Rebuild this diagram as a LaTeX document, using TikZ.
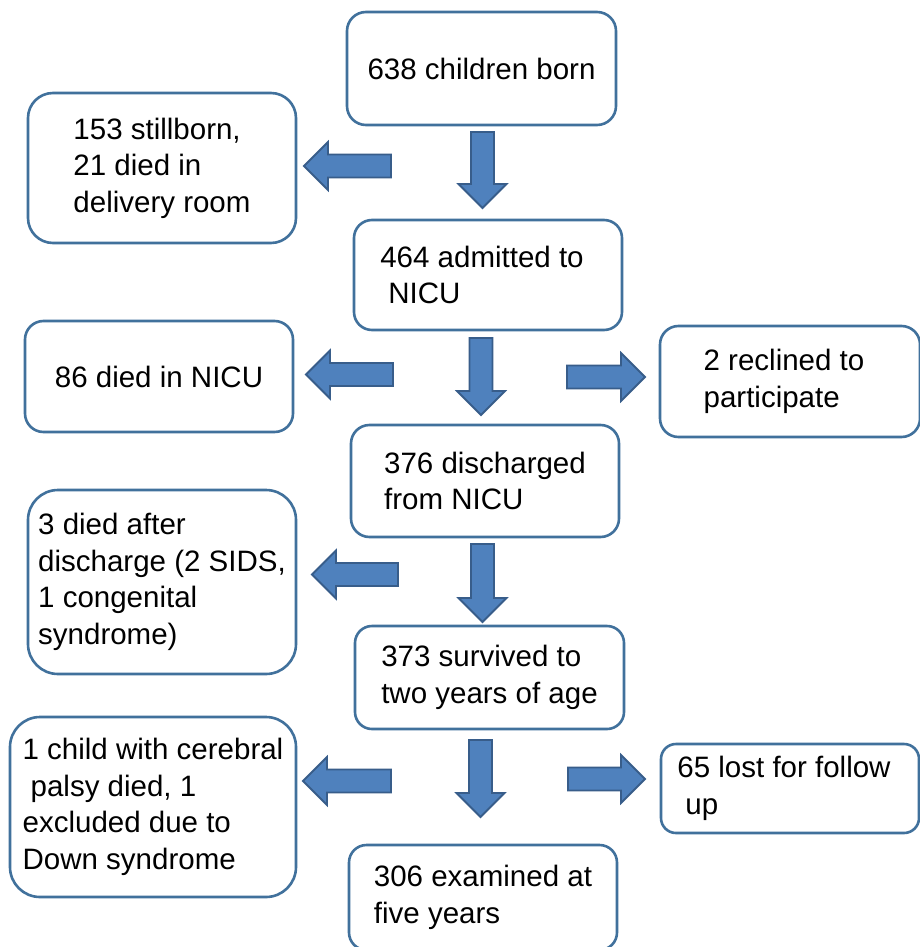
\documentclass[tikz,border=0pt]{standalone}
\usepackage{fontspec}
\setmainfont{Liberation Sans}
\definecolor{boxline}{RGB}{65,113,156}
\definecolor{arrfill}{RGB}{79,129,189}
\definecolor{arrline}{RGB}{56,93,138}
\tikzset{
  box/.style={draw=boxline, line width=2.6pt, fill=white, inner sep=0pt, align=left,
    font=\fontsize{29.5pt}{36.5pt}\selectfont, text=black},
  arrowfill/.style={fill=arrfill, draw=arrline, line width=1.8pt, line join=miter},
  pics/barrow/.style={code={
    \path[arrowfill] (0,0) -- (-24,24) -- (-24,11.5) -- (-#1,11.5) -- (-#1,-11.5)
      -- (-24,-11.5) -- (-24,-24) -- cycle;}}
}
\begin{document}
\begin{tikzpicture}[x=1pt,y=-1pt]
\useasboundingbox (0,0) rectangle (920,947);
\fill[white] (0,0) rectangle (920,947);
% boxes
\node[box, minimum width=269pt, minimum height=113pt, rounded corners=19pt] (born) at (481.5,68.5) {638 children born};
\node[box, minimum width=268pt, minimum height=110pt, rounded corners=18pt] (admitted) at (488,275) {464 admitted to\hspace*{12pt}\\\hspace*{8pt}NICU};
\node[box, minimum width=268pt, minimum height=150pt, rounded corners=25pt] (stillborn) at (162,168) {153 stillborn,\\21 died in\\delivery room};
\node[box, minimum width=268pt, minimum height=111pt, rounded corners=18.5pt] (diednicu) at (159,376.5) {86 died in NICU};
\node[box, minimum width=260pt, minimum height=111pt, rounded corners=18.5pt] (reclined) at (790,381.5) {2 reclined to\hspace*{12pt}\\participate};
\node[box, minimum width=268pt, minimum height=112pt, rounded corners=18.5pt] (discharged) at (485,481) {376 discharged\\from NICU};
\node[box, minimum width=268pt, minimum height=184pt, rounded corners=30pt] (diedafter) at (162,582) {3 died after\\discharge (2 SIDS,\\1 congenital\\syndrome)};
\node[box, minimum width=269pt, minimum height=103pt, rounded corners=17pt] (survived) at (489.5,677.5) {373 survived to\\two years of age};
\node[box, minimum width=286pt, minimum height=180pt, rounded corners=30pt] (cerebral) at (153,807) {1 child with cerebral\\\hspace*{8pt}palsy died, 1\\excluded due to\\Down syndrome};
\node[box, minimum width=258pt, minimum height=89pt, rounded corners=15pt] (lost) at (790,788.5) {65 lost for follow\hspace*{12pt}\\\hspace*{8pt}up};
\node[box, minimum width=268pt, minimum height=105pt, rounded corners=17.5pt] (examined) at (483,897.5) {306 examined at\\five years};
% block arrows
\pic (d1) [rotate=-90] at (482.5,208) {barrow=76};
\pic (d2) [rotate=-90] at (481,415) {barrow=77};
\pic (d3) [rotate=-90] at (482.5,622) {barrow=78};
\pic (d4) [rotate=-90] at (480.5,817) {barrow=77};
\pic (l1) [rotate=180] at (304,166) {barrow=87};
\pic (l2) [rotate=180] at (306,374.5) {barrow=87};
\pic (l3) [rotate=180] at (312,574.5) {barrow=86};
\pic (l4) [rotate=180] at (303,781) {barrow=88};
\pic (r2) at (645,377) {barrow=78};
\pic (r4) at (645,779) {barrow=77};
\end{tikzpicture}
\end{document}
